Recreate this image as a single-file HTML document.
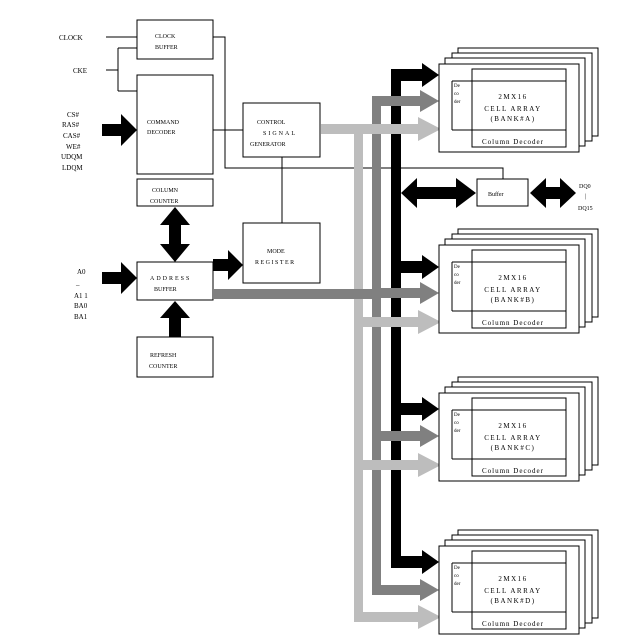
<!DOCTYPE html>
<html><head><meta charset="utf-8"><style>
html,body{margin:0;padding:0;background:#fff;}
svg{display:block;font-family:"Liberation Serif",serif;}
text{font-size:7px;fill:#000;}
</style></head><body>
<svg width="639" height="644" viewBox="0 0 639 644" xmlns="http://www.w3.org/2000/svg">
<defs>
<g id="bank">
<rect x="19" y="-16" width="140" height="88" fill="#fff" stroke="#000"/>
<rect x="13" y="-11" width="140" height="88" fill="#fff" stroke="#000"/>
<rect x="6" y="-6" width="140" height="88" fill="#fff" stroke="#000"/>
<rect x="0" y="0" width="140" height="88" fill="#fff" stroke="#000"/>
<rect x="33" y="5" width="94" height="78" fill="none" stroke="#000"/>
<path d="M13 17H127M13 66H127M13 17V66" stroke="#000" fill="none"/>
<text x="15" y="23" style="font-size:5px">De</text>
<text x="15" y="31" style="font-size:5px">co</text>
<text x="15" y="39" style="font-size:5px">der</text>
<text x="74" y="35" text-anchor="middle" letter-spacing="1.5">2MX16</text>
<text x="74" y="47" text-anchor="middle" letter-spacing="1.5">CELL ARRAY</text>
</g>
</defs>
<g stroke="#000" fill="none" stroke-width="1">
<rect x="137" y="20" width="76" height="39"/>
<rect x="137" y="75" width="76" height="99"/>
<rect x="137" y="179" width="76" height="27"/>
<rect x="243" y="103" width="77" height="54"/>
<rect x="243" y="223" width="77" height="60"/>
<rect x="137" y="262" width="76" height="38"/>
<rect x="137" y="337" width="76" height="40"/>
<rect x="477" y="179" width="51" height="27"/>
<path d="M106 37H137M106 70H118M118 48V91M118 48H137M118 91H137M213 37H225V168H503V179M213 130H243M282 157V223"/>
</g>
<!-- bus verticals -->
<rect x="354" y="124" width="9" height="498" fill="#bdbdbd"/>
<rect x="372" y="96" width="9" height="499" fill="#808080"/>
<rect x="391" y="69" width="10" height="499" fill="#000"/>
<rect x="321" y="124" width="40" height="10" fill="#bdbdbd"/>
<rect x="213" y="289" width="165" height="10" fill="#808080"/>
<!-- bus arrows -->
<g fill="#000">
<polygon points="391,69 422,69 422,63 439,75 422,87 422,81 391,81"/>
<polygon points="391,261 422,261 422,255 439,267 422,279 422,273 391,273"/>
<polygon points="391,403 422,403 422,397 439,409 422,421 422,415 391,415"/>
<polygon points="391,556 422,556 422,550 439,562 422,574 422,568 391,568"/>
</g>
<g fill="#808080">
<polygon points="372,96 420,96 420,90 439,101 420,112 420,106 372,106"/>
<polygon points="372,288 420,288 420,282 439,293 420,304 420,298 372,298"/>
<polygon points="372,431 420,431 420,425 439,436 420,447 420,441 372,441"/>
<polygon points="372,585 420,585 420,579 439,590 420,601 420,595 372,595"/>
</g>
<g fill="#bdbdbd">
<polygon points="354,124 418,124 418,117 441,129 418,141 418,134 354,134"/>
<polygon points="354,317 418,317 418,310 441,322 418,334 418,327 354,327"/>
<polygon points="354,460 418,460 418,453 441,465 418,477 418,470 354,470"/>
<polygon points="354,612 418,612 418,605 441,617 418,629 418,622 354,622"/>
</g>
<!-- black arrows left -->
<g fill="#000">
<polygon points="102,124 121,124 121,114 137,130 121,146 121,136 102,136"/>
<polygon points="102,272 121,272 121,262 137,278 121,294 121,284 102,284"/>
<polygon points="213,259 228,259 228,250 243,265 228,280 228,271 213,271"/>
<polygon points="169,225 160,225 175,207 190,225 181,225 181,244 190,244 175,262 160,244 169,244"/>
<polygon points="169,337 169,318 160,318 175,301 190,318 181,318 181,337"/>
<polygon points="401,193 417,178 417,187 456,187 456,178 476,193 456,208 456,199 417,199 417,208"/>
<polygon points="530,193 546,178 546,187 560,187 560,178 576,193 560,208 560,199 546,199 546,208"/>
</g>
<!-- banks -->
<g transform="translate(439,64)"><use href="#bank"/><text x="74" y="57" text-anchor="middle" letter-spacing="1.5">(BANK#A)</text><text x="74" y="80" text-anchor="middle" letter-spacing="1">Column Decoder</text></g>
<g transform="translate(439,245)"><use href="#bank"/><text x="74" y="57" text-anchor="middle" letter-spacing="1.5">(BANK#B)</text><text x="74" y="80" text-anchor="middle" letter-spacing="1">Column Decoder</text></g>
<g transform="translate(439,393)"><use href="#bank"/><text x="74" y="57" text-anchor="middle" letter-spacing="1.5">(BANK#C)</text><text x="74" y="80" text-anchor="middle" letter-spacing="1">Column Decoder</text></g>
<g transform="translate(439,546)"><use href="#bank"/><text x="74" y="57" text-anchor="middle" letter-spacing="1.5">(BANK#D)</text><text x="74" y="80" text-anchor="middle" letter-spacing="1">Column Decoder</text></g>
<!-- labels -->
<text x="59" y="40">CLOCK</text>
<text x="73" y="73">CKE</text>
<text x="67" y="117">CS#</text>
<text x="62" y="127">RAS#</text>
<text x="63" y="138">CAS#</text>
<text x="66" y="149">WE#</text>
<text x="61" y="159">UDQM</text>
<text x="62" y="170">LDQM</text>
<text x="77" y="274">A0</text>
<text x="76" y="287">–</text>
<text x="74" y="298">A1 1</text>
<text x="74" y="308">BA0</text>
<text x="74" y="319">BA1</text>
<text x="155" y="38" style="font-size:6px">CLOCK</text>
<text x="155" y="49" style="font-size:6px">BUFFER</text>
<text x="147" y="124" style="font-size:6px">COMMAND</text>
<text x="147" y="134" style="font-size:6px">DECODER</text>
<text x="152" y="192" style="font-size:6px">COLUMN</text>
<text x="150" y="203" style="font-size:6px">COUNTER</text>
<text x="257" y="124" style="font-size:6px">CONTROL</text>
<text x="263" y="135" style="font-size:6px" letter-spacing="2">SIGNAL</text>
<text x="250" y="146" style="font-size:6px">GENERATOR</text>
<text x="267" y="253" style="font-size:6px">MODE</text>
<text x="255" y="264" style="font-size:6px" letter-spacing="1.5">REGISTER</text>
<text x="150" y="280" style="font-size:6px" letter-spacing="2">ADDRESS</text>
<text x="154" y="291" style="font-size:6px">BUFFER</text>
<text x="150" y="357" style="font-size:6px">REFRESH</text>
<text x="149" y="368" style="font-size:6px">COUNTER</text>
<text x="488" y="196" style="font-size:6px">Buffer</text>
<text x="579" y="188" style="font-size:6px">DQ0</text>
<text x="585" y="198" style="font-size:6px">|</text>
<text x="578" y="210" style="font-size:6px">DQ15</text>
</svg>
</body></html>
